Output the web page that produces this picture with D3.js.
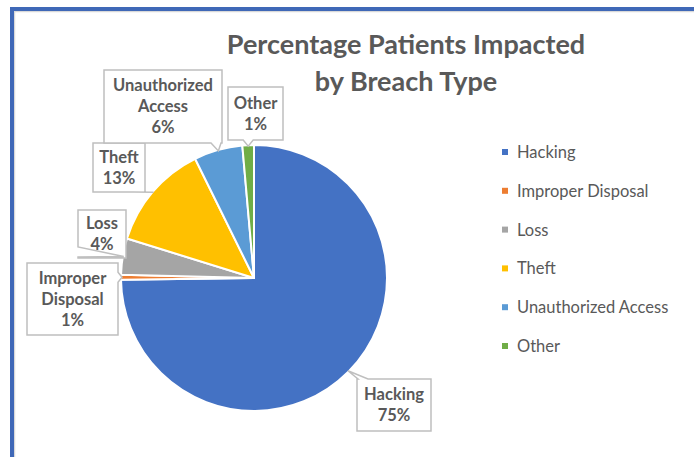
<!DOCTYPE html>
<html>
<head>
<meta charset="utf-8">
<script src="https://cdn.jsdelivr.net/npm/d3@7"></script>
<style>
  body { margin: 0; background: #fff; }
  svg { display: block; }
</style>
</head>
<body>
<div id="chart"></div>
<script>
const categories = ["Hacking", "Improper Disposal", "Loss", "Theft", "Unauthorized Access", "Other"];
const values = [74.8, 0.6, 4.4, 12.9, 5.9, 1.4];
const labelLines = [["Hacking"], ["Improper", "Disposal"], ["Loss"], ["Theft"], ["Unauthorized", "Access"], ["Other"]];
const colors = ["#4472C4", "#ED7D31", "#A5A5A5", "#FFC000", "#5B9BD5", "#70AD47"];
const titleLines = ["Percentage Patients Impacted", "by Breach Type"];

// callout boxes placed by hand like in the original sheet: [x, y, w, h]
const labelBoxes = [
    [357, 379, 74, 52],
    [27, 263, 91, 72],
    [78, 210, 48, 48],
    [93, 143, 52, 49],
    [104, 70, 118, 73],
    [228, 87, 55, 53]
];

const width = 694, height = 457;
const cx = 254, cy = 278, radius = 133;
const textColor = "#595959";
const font = "Lato, 'Liberation Sans', sans-serif";

const svg = d3.select("#chart").append("svg")
    .attr("width", width)
    .attr("height", height);

// chart frame (only top and left edges are visible in the window)
svg.append("rect")
    .attr("x", 14.5).attr("y", 11.5)
    .attr("width", 800).attr("height", 600)
    .attr("fill", "none")
    .attr("stroke", "#d9d9d9")
    .attr("stroke-width", 1.5);
svg.append("rect")
    .attr("x", 12).attr("y", 9)
    .attr("width", 800).attr("height", 600)
    .attr("fill", "none")
    .attr("stroke", "#3F68B7")
    .attr("stroke-width", 4);

// title
svg.append("text")
    .attr("x", 406)
    .attr("text-anchor", "middle")
    .attr("font-family", font)
    .attr("font-weight", "bold")
    .attr("font-size", 27)
    .attr("fill", textColor)
    .selectAll("tspan")
    .data(titleLines)
    .join("tspan")
    .attr("x", 406)
    .attr("y", (d, i) => 54 + i * 37)
    .text(d => d);

// pie
const data = categories.map((c, i) => ({ name: c, value: values[i], color: colors[i], lines: labelLines[i], box: labelBoxes[i] }));
const pie = d3.pie().value(d => d.value).sort(null);
const arcs = pie(data);
const arc = d3.arc().innerRadius(0).outerRadius(radius);

const g = svg.append("g").attr("transform", `translate(${cx},${cy})`);
g.selectAll("path")
    .data(arcs)
    .join("path")
    .attr("d", arc)
    .attr("fill", d => d.data.color)
    .attr("stroke", "#fff")
    .attr("stroke-width", 2)
    .attr("stroke-linejoin", "round");

// callouts
const pct = d3.format(".0%");
const total = d3.sum(values);

function calloutPath(box, tx, ty) {
    const [x, y, w, h] = box;
    const hw = 5;
    const pts = [];
    let side;
    if (ty > y + h) side = "bottom";
    else if (ty < y) side = "top";
    else if (tx > x + w) side = "right";
    else side = "left";
    const clampX = v => Math.max(x + hw + 1, Math.min(x + w - hw - 1, v));
    const clampY = v => Math.max(y + hw + 1, Math.min(y + h - hw - 1, v));
    // clockwise from top-left
    pts.push([x, y]);
    if (side === "top") { const bx = clampX(tx); pts.push([bx - hw, y], [tx, ty], [bx + hw, y]); }
    pts.push([x + w, y]);
    if (side === "right") { const by = clampY(ty); pts.push([x + w, by - hw], [tx, ty], [x + w, by + hw]); }
    pts.push([x + w, y + h]);
    if (side === "bottom") { const bx = clampX(tx); pts.push([bx + hw, y + h], [tx, ty], [bx - hw, y + h]); }
    pts.push([x, y + h]);
    if (side === "left") { const by = clampY(ty); pts.push([x, by + hw], [tx, ty], [x, by - hw]); }
    return "M" + pts.map(p => p.join(",")).join("L") + "Z";
}

const callouts = svg.append("g");
arcs.forEach(a => {
    const mid = (a.startAngle + a.endAngle) / 2;
    const tx = cx + Math.sin(mid) * (radius - 1);
    const ty = cy - Math.cos(mid) * (radius - 1);
    const [x, y, w, h] = a.data.box;
    const c = callouts.append("g");
    c.append("path")
        .attr("d", calloutPath(a.data.box, tx, ty))
        .attr("fill", "#fff")
        .attr("stroke", "#BFBFBF")
        .attr("stroke-width", 1.5);
    const lines = a.data.lines.concat([pct(a.data.value / total)]);
    const lh = 21;
    const y0 = y + h / 2 - (lines.length - 1) * lh / 2;
    c.append("text")
        .attr("text-anchor", "middle")
        .attr("font-family", font)
        .attr("font-weight", "bold")
        .attr("font-size", 16.5)
        .attr("fill", textColor)
        .selectAll("tspan")
        .data(lines)
        .join("tspan")
        .attr("x", x + w / 2)
        .attr("y", (d, i) => y0 + i * lh)
        .attr("dy", "0.36em")
        .text(d => d);
});

// legend
const legendY = d3.scalePoint().domain(categories).range([152, 346]);
const legend = svg.append("g")
    .selectAll("g")
    .data(data)
    .join("g")
    .attr("transform", d => `translate(502,${legendY(d.name)})`);
legend.append("rect")
    .attr("x", 0).attr("y", -3)
    .attr("width", 6).attr("height", 6)
    .attr("fill", d => d.color);
legend.append("text")
    .attr("x", 15)
    .attr("dy", "0.36em")
    .attr("font-family", font)
    .attr("font-size", 16.5)
    .attr("fill", textColor)
    .text(d => d.name);
</script>
</body>
</html>
